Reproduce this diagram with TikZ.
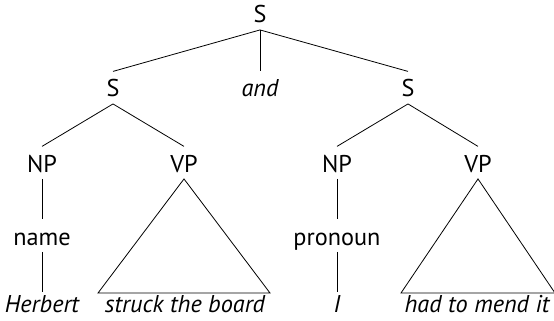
\documentclass[tikz,border=0pt]{standalone}
\usepackage{fontspec}
\setmainfont{PT Sans}
\usepackage{tikz}

\tikzset{
  tn/.style={anchor=base, inner xsep=0.75pt, inner ysep=5pt, text height=14pt, text depth=0pt, font=\fontsize{18.2}{21}\selectfont},
  leaf/.style={tn, text height=10pt, font=\fontsize{18.2}{21}\selectfont\itshape},
  branch/.style={line width=0.6pt}
}

\begin{document}
\begin{tikzpicture}[x=0.75pt,y=0.75pt,yscale=-1,xscale=1]
\useasboundingbox (0,0) rectangle (554,321);

% Text Node
\draw (260,23) node (sTop) [tn] {S};
% Text Node
\draw (113,97) node (sLeft) [tn] {S};
% Text Node
\draw (260,97) node (conj) [tn, font=\fontsize{18.2}{21}\selectfont\itshape] {and};
% Text Node
\draw (408,97) node (sRight) [tn] {S};
% Text Node
\draw (42,172) node (npLeft) [tn] {NP};
% Text Node
\draw (184,172) node (vpLeft) [tn] {VP};
% Text Node
\draw (337,172) node (npRight) [tn] {NP};
% Text Node
\draw (478,172) node (vpRight) [tn] {VP};
% Text Node
\draw (42,245) node (name) [tn] {name};
% Text Node
\draw (337,245) node (pron) [tn] {pronoun};
% Text Node
\draw (42,312) node (herbert) [leaf] {Herbert};
% Text Node
\draw (185,312) node (struck) [leaf] {struck the board};
% Text Node
\draw (337,312) node (iWord) [leaf] {I};
% Text Node
\draw (477,312) node (mend) [leaf] {had to mend it};

%Straight Lines
\draw [branch] (sTop.south) -- (sLeft.north) ;
\draw [branch] (sTop.south) -- (conj.north) ;
\draw [branch] (sTop.south) -- (sRight.north) ;
%Straight Lines
\draw [branch] (sLeft.south) -- (npLeft.north) ;
\draw [branch] (sLeft.south) -- (vpLeft.north) ;
\draw [branch] (sRight.south) -- (npRight.north) ;
\draw [branch] (sRight.south) -- (vpRight.north) ;
%Straight Lines
\draw [branch] (npLeft.south) -- (name.north) ;
\draw [branch] (name.south) -- (herbert.north) ;
\draw [branch] (npRight.south) -- (pron.north) ;
\draw [branch] (pron.south) -- (iWord.north) ;

%Shape: Triangle
\coordinate (triLeftA) at (98,293) ;
\coordinate (triLeftB) at (270,293) ;
\draw [branch] (vpLeft.south) -- (triLeftA) -- (triLeftB) -- cycle ;
%Shape: Triangle
\coordinate (triRightA) at (401,293) ;
\coordinate (triRightB) at (555,293) ;
\draw [branch] (vpRight.south) -- (triRightA) -- (triRightB) -- cycle ;

\end{tikzpicture}
\end{document}
